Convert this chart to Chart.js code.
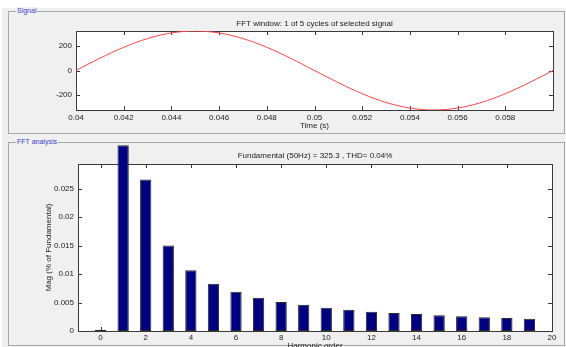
<!DOCTYPE html>
<html><head><meta charset="utf-8">
<script src="https://cdn.jsdelivr.net/npm/chart.js@4.4.0/dist/chart.umd.min.js"></script>
<style>
html,body{margin:0;padding:0;background:#fff;width:566px;height:347px;overflow:hidden;position:relative;font-family:"Liberation Sans",Arial,sans-serif}
#bg{position:absolute;left:2px;top:8px;width:564px;height:339px;background:#f0f0f0}
.box{position:absolute;border:1px solid #a8a8a8;box-sizing:border-box}
.lbl{position:absolute;font-size:7px;color:#3c3cd2;background:#f0f0f0;padding:0 1px;line-height:8px}
canvas{position:absolute;left:0}
</style></head><body>
<div id="bg"></div>
<div class="box" style="left:8px;top:11px;width:557px;height:123px"></div>
<span class="lbl" style="left:16px;top:7px">Signal</span>
<div class="box" style="left:8px;top:142px;width:557px;height:204px"></div>
<span class="lbl" style="left:16px;top:138px">FFT analysis</span>
<canvas id="c1" style="top:0;width:566px;height:133px" width="566" height="133"></canvas>
<canvas id="c2" style="top:133px;width:566px;height:222px" width="566" height="222"></canvas>
<script>
// ---- data ----
const timeS = [0.04,0.0405,0.041,0.0415,0.042,0.0425,0.043,0.0435,0.044,0.0445,0.045,0.0455,0.046,0.0465,0.047,0.0475,0.048,0.0485,0.049,0.0495,0.05,0.0505,0.051,0.0515,0.052,0.0525,0.053,0.0535,0.054,0.0545,0.055,0.0555,0.056,0.0565,0.057,0.0575,0.058,0.0585,0.059,0.0595,0.06];
const signalV = [0,50.9,100.5,147.7,191.2,230.0,263.2,289.8,309.4,321.3,325.3,321.3,309.4,289.8,263.2,230.0,191.2,147.7,100.5,50.9,0,-50.9,-100.5,-147.7,-191.2,-230.0,-263.2,-289.8,-309.4,-321.3,-325.3,-321.3,-309.4,-289.8,-263.2,-230.0,-191.2,-147.7,-100.5,-50.9,0];
const timeTicks = [0.04,0.042,0.044,0.046,0.048,0.05,0.052,0.054,0.056,0.058,0.06];
const timeTickLabels = ['0.04','0.042','0.044','0.046','0.048','0.05','0.052','0.054','0.056','0.058',''];
const signalTicks = [-200,0,200];
const signalTickLabels = ['-200','0','200'];

const harmonicOrder = [0,1,2,3,4,5,6,7,8,9,10,11,12,13,14,15,16,17,18,19];
const magPct = [0.0002,0.0326,0.0266,0.0150,0.01065,0.0083,0.0069,0.00584,0.00509,0.00462,0.00409,0.00374,0.00339,0.00316,0.00298,0.00275,0.00257,0.0024,0.00228,0.00216];
const harmonicTicks = [0,2,4,6,8,10,12,14,16,18,20];
const magTicks = [0,0.005,0.01,0.015,0.02,0.025];
const magTickLabels = ['0','0.005','0.01','0.015','0.02','0.025'];

Chart.defaults.font.family = '"Liberation Sans", Arial, sans-serif';
Chart.defaults.font.size = 8;
Chart.defaults.color = '#222';

const boxPlugin = {
  id: 'box',
  beforeDatasetsDraw(chart, args, opts) {
    const {ctx, chartArea: a, scales} = chart;
    ctx.save();
    ctx.fillStyle = '#fff';
    ctx.fillRect(a.left, a.top, a.right - a.left, a.bottom - a.top);
    ctx.strokeStyle = '#3a3a3a';
    ctx.lineWidth = 1;
    ctx.beginPath();
    scales.x.ticks.forEach(t => {
      const px = Math.round(scales.x.getPixelForValue(t.value)) + 0.5;
      ctx.moveTo(px, a.bottom); ctx.lineTo(px, a.bottom - 4);
      ctx.moveTo(px, a.top); ctx.lineTo(px, a.top + 4);
    });
    scales.y.ticks.forEach(t => {
      const py = Math.round(scales.y.getPixelForValue(t.value)) + 0.5;
      ctx.moveTo(a.left, py); ctx.lineTo(a.left + 4, py);
      ctx.moveTo(a.right, py); ctx.lineTo(a.right - 4, py);
    });
    ctx.stroke();
    ctx.strokeRect(Math.round(a.left) + 0.5, Math.round(a.top) + 0.5, Math.round(a.right - a.left), Math.round(a.bottom - a.top));
    ctx.fillStyle = '#1a1a1a';
    ctx.font = '8px "Liberation Sans", Arial, sans-serif';
    ctx.textAlign = 'center';
    ctx.textBaseline = 'middle';
    ctx.fillText(opts.text, (a.left + a.right) / 2, a.top - opts.dy);
    ctx.restore();
  }
};

new Chart(document.getElementById('c1'), {
  type: 'line',
  data: { datasets: [{
    data: timeS.map((t, i) => ({x: t, y: signalV[i]})),
    borderColor: '#ff4545', borderWidth: 1, pointRadius: 0, tension: 0.3, fill: false
  }]},
  options: {
    responsive: false, animation: false, devicePixelRatio: 1,
    layout: { padding: {left: 0, right: 13, top: 31, bottom: 0} },
    plugins: { legend: {display: false}, tooltip: {enabled: false},
      box: { text: 'FFT window: 1 of 5 cycles of selected signal', dy: 7.7 } },
    scales: {
      x: { type: 'linear', min: 0.04, max: 0.06,
        afterBuildTicks: s => { s.ticks = timeTicks.map(v => ({value: v})); },
        afterFit: s => { s.height = 23; },
        grid: {display: false, drawTicks: false}, border: {display: false},
        ticks: {padding: 3, maxRotation: 0, autoSkip: false, callback: (v, i) => timeTickLabels[i]},
        title: {display: true, text: 'Time (s)', padding: {top: 0, bottom: 2}} },
      y: { min: -325.3, max: 325.3,
        afterBuildTicks: s => { s.ticks = signalTicks.map(v => ({value: v})); },
        afterFit: s => { s.width = 76; },
        grid: {display: false, drawTicks: false}, border: {display: false},
        ticks: {padding: 4, autoSkip: false, callback: (v, i) => signalTickLabels[i]} }
    }
  },
  plugins: [boxPlugin]
});

new Chart(document.getElementById('c2'), {
  type: 'bar',
  data: { datasets: [{
    data: harmonicOrder.map((h, i) => ({x: h, y: magPct[i]})),
    backgroundColor: '#000080', borderColor: '#2a2a2a', borderWidth: 1, borderSkipped: false,
    barPercentage: 0.5, categoryPercentage: 1, clip: false
  }]},
  options: {
    responsive: false, animation: false, devicePixelRatio: 1,
    layout: { padding: {left: 0, right: 14, top: 31, bottom: 0} },
    plugins: { legend: {display: false}, tooltip: {enabled: false},
      box: { text: 'Fundamental (50Hz) = 325.3 , THD= 0.04%', dy: 8 } },
    scales: {
      x: { type: 'linear', min: -1, max: 20, offset: false,
        afterBuildTicks: s => { s.ticks = harmonicTicks.map(v => ({value: v})); },
        afterFit: s => { s.height = 24; },
        grid: {display: false, drawTicks: false, offset: false}, border: {display: false},
        ticks: {padding: 2, maxRotation: 0, autoSkip: false, callback: (v, i) => String(harmonicTicks[i])},
        title: {display: true, text: 'Harmonic order', padding: {top: 0, bottom: 4.5}} },
      y: { min: 0, max: 0.0293,
        afterBuildTicks: s => { s.ticks = magTicks.map(v => ({value: v})); },
        afterFit: s => { s.width = 78; },
        grid: {display: false, drawTicks: false}, border: {display: false},
        ticks: {padding: 4, autoSkip: false, callback: (v, i) => magTickLabels[i]},
        title: {display: true, text: 'Mag (% of Fundamental)', padding: {top: 44, bottom: 0}} }
    }
  },
  plugins: [boxPlugin]
});
</script>
</body></html>
